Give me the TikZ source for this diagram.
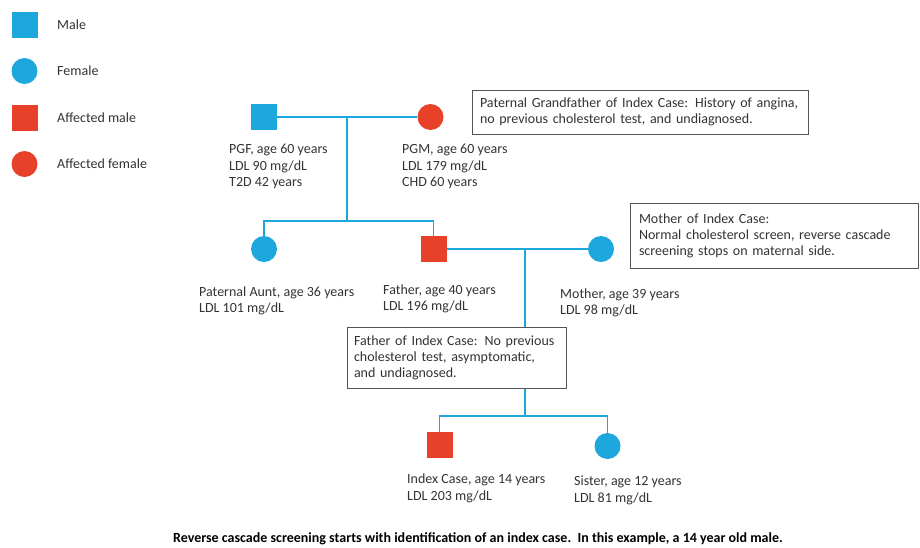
\documentclass[tikz,border=0pt]{standalone}
\usepackage{fontspec}
\setmainfont{Carlito}
\definecolor{pblue}{HTML}{1CA8DD}
\definecolor{pred}{HTML}{E8412A}
\definecolor{txt}{HTML}{333333}
\definecolor{bord}{HTML}{555555}
\begin{document}
\begin{tikzpicture}[x=1pt,y=-1pt,
  sq/.style={rectangle,minimum size=26pt,inner sep=0,draw=none},
  ci/.style={circle,minimum size=26pt,inner sep=0,draw=none},
  male/.style={sq,fill=pblue},
  female/.style={ci,fill=pblue},
  amale/.style={sq,fill=pred},
  afemale/.style={ci,fill=pred},
  lbl/.style={inner sep=0,anchor=west,align=left,text=txt,font=\fontsize{14}{16.5}\selectfont},
  note/.style={draw=bord,line width=1pt,fill=white,rectangle,align=left,text=txt,inner ysep=0pt,font=\fontsize{14}{16}\selectfont},
  link/.style={draw=pblue,line width=1.6pt}
]
\useasboundingbox (0,0) rectangle (920,547);
% legend
\node[male] (lm) at (24.5,25) {};
\node[lbl] (lmt) at (57,25) {Male};
\node[female] (lf) at (24.5,71) {};
\node[lbl] (lft) at (57,71) {Female};
\node[amale] (lam) at (24.5,118) {};
\node[lbl] (lamt) at (57,118) {Affected male};
\node[afemale] (laf) at (24.5,164) {};
\node[lbl] (laft) at (57,164) {Affected female};
% generation I
\node[male] (pgf) at (263.5,117) {};
\node[afemale] (pgm) at (430.5,117) {};
\node[lbl] (pgft) at (229,166.5) {PGF, age 60 years\\LDL 90 mg/dL\\T2D 42 years};
\node[lbl] (pgmt) at (402,166.5) {PGM, age 60 years\\LDL 179 mg/dL\\CHD 60 years};
% generation II
\node[female] (aunt) at (264,249) {};
\node[amale] (father) at (433.5,249) {};
\node[female] (mother) at (601,249) {};
\node[lbl] (auntt) at (199,301) {Paternal Aunt, age 36 years\\LDL 101 mg/dL};
\node[lbl] (fathert) at (383,299) {Father, age 40 years\\LDL 196 mg/dL};
\node[lbl] (mothert) at (560,303) {Mother, age 39 years\\LDL 98 mg/dL};
% generation III
\node[amale] (index) at (439.5,445) {};
\node[female] (sister) at (607.5,446) {};
\node[lbl] (indext) at (407,488.5) {Index Case, age 14 years\\LDL 203 mg/dL};
\node[lbl] (sistert) at (574,490.5) {Sister, age 12 years\\LDL 81 mg/dL};
% connectors
\coordinate (c1) at (347,117);
\coordinate (s1) at (347,221);
\coordinate (c2) at (525,249);
\coordinate (s2) at (525,416);
\draw[link] (pgf.east) -- (pgm.west);
\draw[link] (c1) -- (s1);
\draw[link] (aunt.north) |- (s1) -| (father.north);
\draw[link] (father.east) -- (mother.west);
\draw[link] (c2) -- (s2);
\draw[link] (index.north) |- (s2) -| (sister.north);
% notes
\node[note,inner xsep=8pt,minimum width=336pt,minimum height=44pt,text width=320pt] (pgnote) at (640,112)
  {Paternal Grandfather of Index Case: History of angina,\\no previous cholesterol test, and undiagnosed.};
\node[note,inner xsep=9pt,minimum width=288pt,minimum height=65pt,text width=270pt] (mnote) at (774,235.5)
  {Mother of Index Case:\\Normal cholesterol screen, reverse cascade\\screening stops on maternal side.};
\node[note,inner xsep=7pt,minimum width=219pt,minimum height=61pt,text width=205pt] (fnote) at (456.5,357.5)
  {Father of Index Case: No previous\\cholesterol test, asymptomatic,\\and undiagnosed.};
% caption
\node[inner sep=0,text=black,font=\fontsize{14}{16}\selectfont\bfseries] (cap) at (478,539)
  {Reverse cascade screening starts with identification of an index case.\ \ In this example, a 14 year old male.};
\end{tikzpicture}
\end{document}
